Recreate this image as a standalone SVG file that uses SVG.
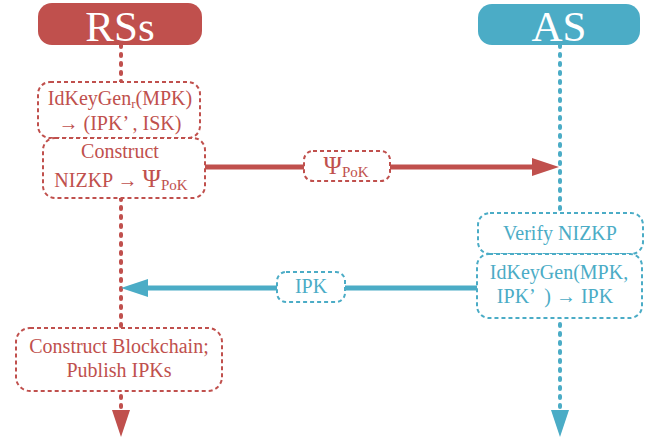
<svg xmlns="http://www.w3.org/2000/svg" width="656" height="441" viewBox="0 0 656 441">
  <style>
    text { font-family: "Liberation Serif", "Times New Roman", serif; text-anchor: middle; }
    .head-rs { fill: #C0504D; }
    .head-as { fill: #4BACC6; }
    .head-txt { fill: #FFFFFF; font-size: 43px; }
    .box-rs { fill: #FFFFFF; stroke: #C0504D; stroke-width: 2; stroke-dasharray: 4 3; }
    .box-as { fill: #FFFFFF; stroke: #4BACC6; stroke-width: 2; stroke-dasharray: 4 3; }
    .txt-rs { fill: #C0504D; font-size: 20px; }
    .txt-as { fill: #4BACC6; font-size: 20px; }
    .life-rs { stroke: #C0504D; stroke-width: 4; stroke-dasharray: 2 7; stroke-linecap: round; fill: none; }
    .life-as { stroke: #4BACC6; stroke-width: 4; stroke-dasharray: 2 7; stroke-linecap: round; fill: none; }
    .msg-rs { stroke: #C0504D; stroke-width: 5; fill: none; }
    .msg-as { stroke: #4BACC6; stroke-width: 5; fill: none; }
  </style>
  <defs>
    <marker id="head-red" markerUnits="userSpaceOnUse" markerWidth="28" markerHeight="20" refX="0" refY="9" orient="auto">
      <path d="M0,0 L27,9 L0,18 Z" fill="#C0504D"/>
    </marker>
    <marker id="head-blue" markerUnits="userSpaceOnUse" markerWidth="28" markerHeight="20" refX="0" refY="9" orient="auto">
      <path d="M0,0 L27,9 L0,18 Z" fill="#4BACC6"/>
    </marker>
  </defs>

  <!-- lifelines and messages -->
  <g id="connectors">
    <line class="life-rs" x1="121" y1="45" x2="121" y2="410" marker-end="url(#head-red)"/>
    <line class="life-as" x1="560" y1="45" x2="560" y2="410" marker-end="url(#head-blue)"/>
    <line class="msg-rs" x1="205" y1="167" x2="532" y2="167" marker-end="url(#head-red)"/>
    <line class="msg-as" x1="477" y1="288" x2="148" y2="288" marker-end="url(#head-blue)"/>
  </g>

  <!-- participants -->
  <g id="rs-header">
    <rect class="head-rs" x="38" y="3" width="164" height="42" rx="14"/>
    <text class="head-txt" x="120" y="41">RSs</text>
  </g>
  <g id="as-header">
    <rect class="head-as" x="478" y="4" width="162" height="41" rx="14"/>
    <text class="head-txt" x="559" y="41">AS</text>
  </g>

  <!-- RS steps -->
  <g id="rs-keygen">
    <rect class="box-rs" x="38" y="82" width="162" height="56" rx="12"/>
    <text class="txt-rs" x="120" y="105">IdKeyGen<tspan font-size="13" dy="3">r</tspan><tspan dy="-3">(MPK)</tspan></text>
    <text class="txt-rs" x="120" y="130">→ (IPK’ , ISK)</text>
  </g>
  <g id="rs-construct">
    <rect class="box-rs" x="43" y="138" width="162" height="60" rx="12"/>
    <text class="txt-rs" x="120" y="158">Construct</text>
    <text class="txt-rs" x="121" y="187">NIZKP → <tspan font-size="25">Ψ</tspan><tspan font-size="15" dy="3">PoK</tspan></text>
  </g>
  <g id="rs-publish">
    <rect class="box-rs" x="16" y="328" width="206" height="63" rx="14"/>
    <text class="txt-rs" x="119" y="353">Construct Blockchain;</text>
    <text class="txt-rs" x="119" y="377">Publish IPKs</text>
  </g>

  <!-- message labels -->
  <g id="label-pok">
    <rect class="box-rs" x="304" y="151" width="86" height="30" rx="9"/>
    <text class="txt-rs" x="346" y="174"><tspan font-size="25">Ψ</tspan><tspan font-size="15" dy="3">PoK</tspan></text>
  </g>
  <g id="label-ipk">
    <rect class="box-as" x="277" y="272" width="68" height="30" rx="9"/>
    <text class="txt-as" x="311" y="293">IPK</text>
  </g>

  <!-- AS steps -->
  <g id="as-verify">
    <rect class="box-as" x="478" y="213" width="165" height="41" rx="12"/>
    <text class="txt-as" x="560" y="240">Verify NIZKP</text>
  </g>
  <g id="as-keygen">
    <rect class="box-as" x="477" y="254" width="165" height="64" rx="12"/>
    <text class="txt-as" x="559" y="279">IdKeyGen(MPK,</text>
    <text class="txt-as" x="555" y="303" xml:space="preserve">IPK’  ) → IPK</text>
  </g>
</svg>
